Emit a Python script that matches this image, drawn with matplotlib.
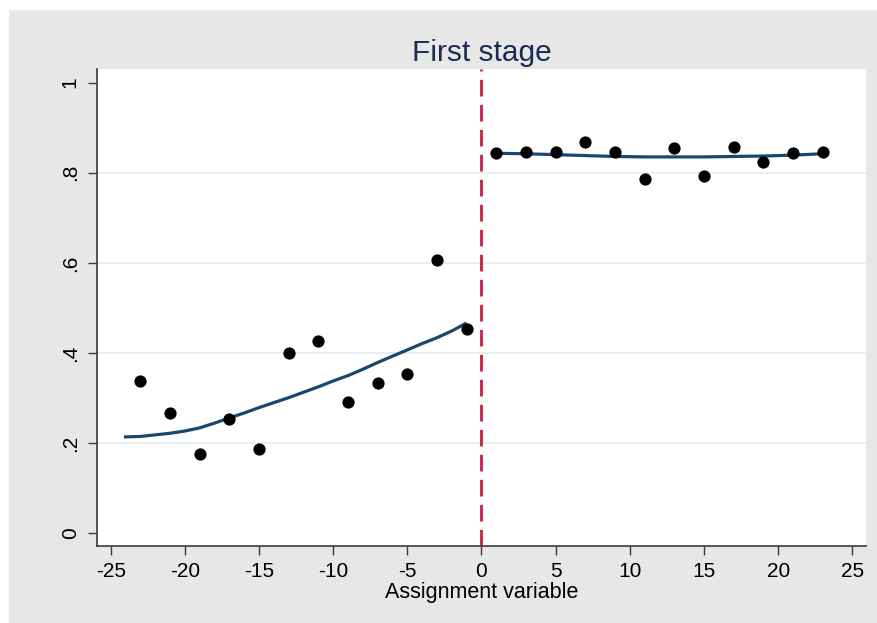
import matplotlib
matplotlib.use("Agg")
import matplotlib.pyplot as plt
from matplotlib.patches import Rectangle

plt.rcParams['font.family'] = ['Liberation Sans', 'DejaVu Sans']

# Binned means of the outcome by assignment variable
bins_left = [-23, -21, -19, -17, -15, -13, -11, -9, -7, -5, -3, -1]
means_left = [0.338, 0.266, 0.176, 0.254, 0.187, 0.401, 0.427, 0.292, 0.333, 0.354, 0.607, 0.453]
bins_right = [1, 3, 5, 7, 9, 11, 13, 15, 17, 19, 21, 23]
means_right = [0.844, 0.846, 0.846, 0.867, 0.846, 0.785, 0.855, 0.792, 0.858, 0.824, 0.843, 0.847]

# Smoothed fit on each side of the cutoff
fit_x_left = [-24, -23, -22, -21, -20, -19, -18, -17, -16, -15, -14, -13, -12,
              -11, -10, -9, -8, -7, -6, -5, -4, -3, -2, -1.1]
fit_y_left = [0.214, 0.215, 0.2185, 0.222, 0.227, 0.234, 0.2445, 0.256, 0.267, 0.279,
              0.290, 0.301, 0.313, 0.325, 0.338, 0.350, 0.364, 0.379, 0.393, 0.407,
              0.421, 0.434, 0.449, 0.465]
fit_x_right = [1, 3, 5, 7, 9, 11, 13, 15, 17, 19, 21, 23]
fit_y_right = [0.843, 0.842, 0.840, 0.838, 0.836, 0.835, 0.835, 0.835, 0.836, 0.837, 0.839, 0.842]

x_ticks = [-25, -20, -15, -10, -5, 0, 5, 10, 15, 20, 25]
y_ticks = [0, 0.2, 0.4, 0.6, 0.8, 1.0]
y_tick_labels = ["0", ".2", ".4", ".6", ".8", "1"]
cutoff = 0

W, H = 878, 623
fig = plt.figure(figsize=(W / 100, H / 100), dpi=100)
fig.patch.set_facecolor("white")

# grey graph region behind the plot
bg = fig.add_axes([0, 0, 1, 1], zorder=-5)
bg.set_xlim(0, W)
bg.set_ylim(H, 0)
bg.axis("off")
bg.add_patch(Rectangle((9, 10), W - 9, H - 10, facecolor="#e7e7e7", edgecolor="none"))

ax = fig.add_axes([97 / W, (H - 546) / H, (866 - 97) / W, (546 - 69) / H])
ax.set_facecolor("white")

navy = "#1a476f"
for yv in y_ticks[1:-1]:
    ax.axhline(yv, color="#e8eff2", lw=1.5, zorder=1)

ax.axvline(cutoff, color="#d21a40", lw=2, dashes=(6, 3), zorder=2)

ax.plot(fit_x_left, fit_y_left, color=navy, lw=2.3, zorder=3)
ax.plot(fit_x_right, fit_y_right, color=navy, lw=2.3, zorder=3)
ax.plot(bins_left, means_left, "o", color="black", ms=7.8, zorder=4)
ax.plot(bins_right, means_right, "o", color="black", ms=7.8, zorder=4)

ax.set_xlim(-25.92, 25.92)
ax.set_ylim(-0.028, 1.03)

ax.set_xticks(x_ticks)
ax.set_xticklabels([str(t) for t in x_ticks])
ax.set_yticks(y_ticks)
ax.set_yticklabels(y_tick_labels, rotation=90, va="center")

for s in ("top", "right"):
    ax.spines[s].set_visible(False)
for s in ("left", "bottom"):
    ax.spines[s].set_color("#3a3a3a")
    ax.spines[s].set_linewidth(1.2)

ax.tick_params(axis="both", direction="out", length=6.5, width=1.0,
               color="#3a3a3a", labelsize=15, labelcolor="black")
ax.tick_params(axis="x", pad=5)
ax.tick_params(axis="y", pad=6)

ax.set_xlabel("Assignment variable", fontsize=15.5, color="black", labelpad=1)
ax.set_title("First stage", fontsize=21.5, color="#1c2b55", pad=6)

fig.savefig("out.png", dpi=100, facecolor=fig.get_facecolor())
